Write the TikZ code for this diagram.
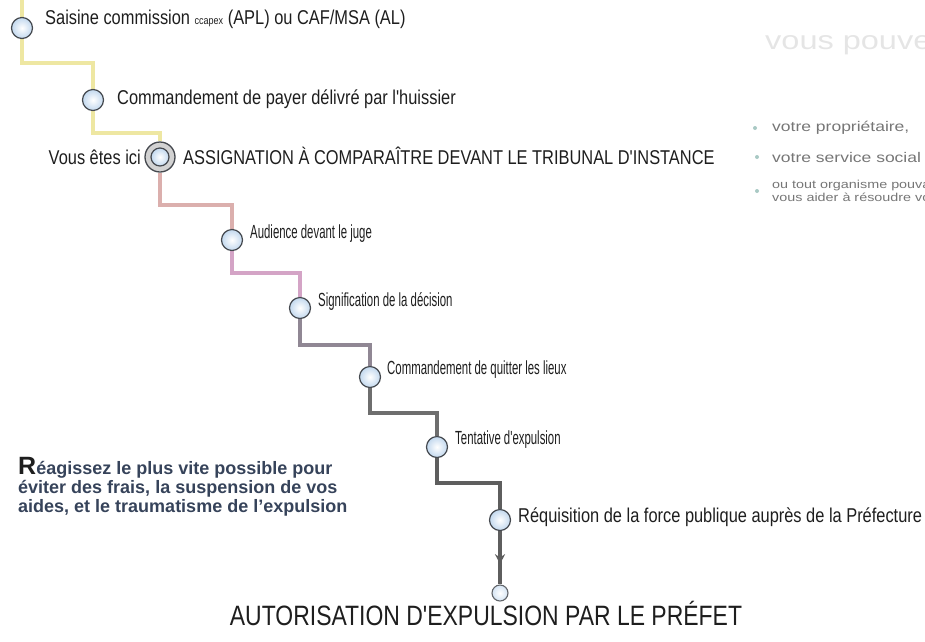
\documentclass[tikz,border=0pt]{standalone}
\usepackage{fontspec}
\setmainfont{Liberation Sans}
\newfontfamily\labelfont[FakeStretch=0.82]{Liberation Sans}
\newfontfamily\narrowfont[FakeStretch=0.6]{Liberation Sans}
\newfontfamily\sidefont[FakeStretch=1.25]{Liberation Sans}
\usetikzlibrary{backgrounds,decorations.markings,arrows.meta}

\definecolor{ink}{HTML}{1E1E1E}
\definecolor{stepyellow}{HTML}{EEE7A2}
\definecolor{steprose}{HTML}{DBAFAD}
\definecolor{steppink}{HTML}{D4A4C6}
\definecolor{stepmauve}{HTML}{908794}
\definecolor{stepgrey}{HTML}{6E6E6E}
\definecolor{stepdark}{HTML}{5E5E5E}
\definecolor{ballblue}{HTML}{C2D8EE}
\definecolor{rim}{HTML}{45494F}
\definecolor{paraink}{HTML}{36435A}
\definecolor{sideink}{HTML}{767676}
\definecolor{bulletink}{HTML}{A9C9C4}

\begin{document}
\begin{tikzpicture}[x=1pt,y=-1pt,
  stage/.style={circle, minimum size=21pt, inner sep=0pt, inner color=white,
    outer color=ballblue, draw=rim, line width=1.2pt},
  herering/.style={circle, minimum size=30pt, inner sep=0pt, fill=gray!35,
    draw=rim, line width=1.3pt},
  goal/.style={circle, minimum size=16pt, inner sep=0pt, inner color=white,
    outer color=ballblue!70, draw=rim!85, line width=1.1pt},
  lab/.style={anchor=west, inner sep=0pt, text=ink,
    font=\labelfont\fontsize{20}{20}\selectfont},
  labn/.style={anchor=west, inner sep=0pt, text=ink,
    font=\narrowfont\fontsize{19}{19}\selectfont},
  side/.style={anchor=west, inner sep=0pt, text=sideink,
    font=\sidefont\fontsize{14}{14}\selectfont},
  sidesmall/.style={anchor=west, inner sep=0pt, text=sideink,
    font=\sidefont\fontsize{11.5}{11.5}\selectfont},
  bullet/.style={circle, fill=bulletink, inner sep=0pt, minimum size=4pt},
  link/.style={line width=3.5pt},
]
\useasboundingbox (0,0) rectangle (925,641);
\clip (0,0) rectangle (925,641);

% stages of the procedure
\node[stage] (c1) at (22,28) {};
\node[stage] (c2) at (93,100) {};
\node[herering] (c3) at (160,157) {};
\node[stage, minimum size=18pt] (c3in) at (c3) {};
\node[stage] (c4) at (232,240) {};
\node[stage] (c5) at (300,308) {};
\node[stage] (c6) at (370,377) {};
\node[stage] (c7) at (437,447) {};
\node[stage] (c8) at (500,520) {};
\node[goal] (c9) at (500,593) {};

% labels
\node[lab] (t1) at (45,19) {Saisine commission {\fontsize{11}{11}\selectfont ccapex} (APL) ou CAF/MSA (AL)};
\node[lab] (t2) at (117,99) {Commandement de payer délivré par l'huissier};
\node[lab, anchor=east] (here) at (141,157) {Vous êtes ici};
\node[lab] (t3) at (183,156) {ASSIGNATION À COMPARAÎTRE DEVANT LE TRIBUNAL D'INSTANCE};
\node[labn] (t4) at (250,234) {Audience devant le juge};
\node[labn] (t5) at (318,301) {Signification de la décision};
\node[labn] (t6) at (387,370) {Commandement de quitter les lieux};
\node[labn] (t7) at (455,440) {Tentative d'expulsion};
\node[lab] (t8) at (518,517) {Réquisition de la force publique auprès de la Préfecture};
\node[inner sep=0pt, text=ink, font=\labelfont\fontsize{28}{28}\selectfont]
  (t9) at (486,613) {AUTORISATION D'EXPULSION PAR LE PRÉFET};

% advice paragraph
\node[anchor=north west, align=left, inner sep=0pt, text=paraink,
  font=\bfseries\fontsize{18}{19}\selectfont] (advice) at (18,457)
  {{\color{ink}\fontsize{25}{19}\selectfont R}éagissez le plus vite possible pour\\
   éviter des frais, la suspension de vos\\
   aides, et le traumatisme de l'expulsion};

% contacts column, running past the right edge
\node[anchor=west, inner sep=0pt, text=gray!20,
  font=\sidefont\fontsize{26}{26}\selectfont] (title) at (765,45) {vous pouvez};
\node[bullet] (d1) at (755,128) {};
\node[bullet] (d2) at (757,157) {};
\node[bullet] (d3) at (757,191) {};
\node[side] (s1) at (772,128) {votre propriétaire,};
\node[side] (s2) at (772,157) {votre service social};
\node[sidesmall] (s3) at (772,186) {ou tout organisme pouvant};
\node[sidesmall] (s4) at (772,197) {vous aider à résoudre vos difficultés};

% bend heights of the staircase
\coordinate (top) at (22,0);
\coordinate (b1) at (0,63);
\coordinate (b2) at (0,133);
\coordinate (b3) at (0,205);
\coordinate (b4) at (0,273);
\coordinate (b5) at (0,345);
\coordinate (b6) at (0,413);
\coordinate (b7) at (0,483);

\begin{pgfonlayer}{background}
\draw[link, stepyellow] (top) -- (c1);
\draw[link, stepyellow] (c1) -- (c1 |- b1) -| (c2);
\draw[link, stepyellow] (c2) -- (c2 |- b2) -| (c3);
\draw[link, steprose] (c3) -- (c3 |- b3) -| (c4);
\draw[link, steppink] (c4) -- (c4 |- b4) -| (c5);
\draw[link, stepmauve] (c5) -- (c5 |- b5) -| (c6);
\draw[link, stepgrey] (c6) -- (c6 |- b6) -| (c7);
\draw[link, stepdark] (c7) -- (c7 |- b7) -| (c8);
\draw[link, stepdark, postaction={decorate}, decoration={markings,
  mark=at position 0.62 with {\arrow{Stealth[length=10pt,width=10pt]}}}]
  (c8) -- (c9);
\end{pgfonlayer}
\end{tikzpicture}
\end{document}
